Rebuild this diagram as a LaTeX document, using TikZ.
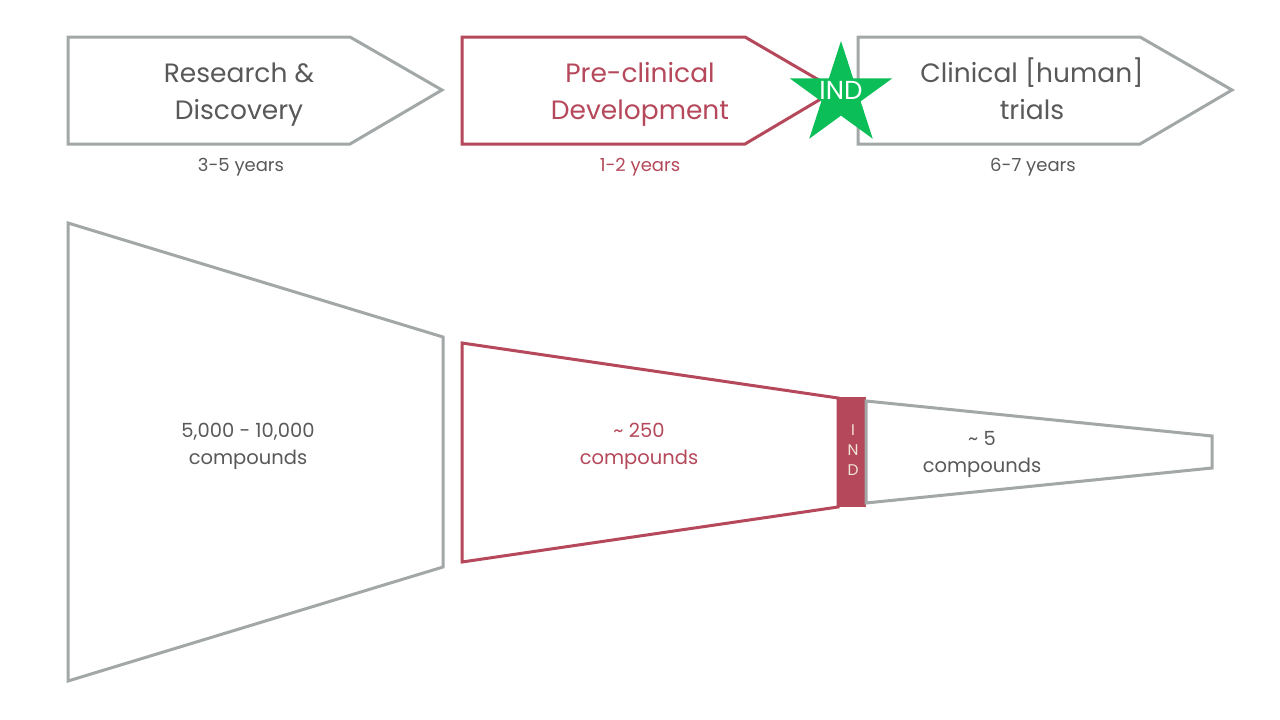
\documentclass[tikz,border=0pt]{standalone}
\usepackage{fontspec}
\setmainfont{Poppins}
\usetikzlibrary{shapes.geometric}
\definecolor{fgray}{HTML}{A2A7A7}
\definecolor{fred}{HTML}{B5485A}
\definecolor{fgreen}{HTML}{0BBE57}
\definecolor{ftext}{HTML}{595959}
\definecolor{fcream}{HTML}{F2E6D8}
\tikzset{
  grayline/.style={draw=fgray, line width=3pt, line join=miter},
  redline/.style={draw=fred, line width=3pt, line join=miter},
  bigtxt/.style={font=\fontsize{26.5}{37}\selectfont, align=center, text=ftext, inner sep=0pt, anchor=base},
  smalltxt/.style={font=\fontsize{18}{27}\selectfont, align=center, text=ftext, inner sep=0pt, anchor=base},
  comptxt/.style={font=\fontsize{19.5}{27}\selectfont, align=center, text=ftext, inner sep=0pt, anchor=base},
  tinytxt/.style={font=\fontsize{15.5}{20}\selectfont, align=center, text=fcream, inner sep=0pt},
}
\begin{document}
\begin{tikzpicture}[x=1pt,y=-1pt]
\useasboundingbox[fill=white] (0,0) rectangle (1280,720);
% top arrows
\draw[grayline] (68,37) -- (350,37) -- (442,90) -- (350,144) -- (68,144) -- cycle;
\draw[redline] (462,37) -- (745,37) -- (836,90) -- (745,144) -- (462,144) -- cycle;
\draw[grayline] (858,37) -- (1140,37) -- (1232,90) -- (1140,144) -- (858,144) -- cycle;
\node[star, star points=5, star point ratio=2.618, minimum size=108pt, inner sep=0pt, fill=fgreen] (star) at (841,95) {};
\node[font=\fontsize{26}{26}\selectfont, text=white, inner sep=0pt, anchor=base] (indstar) at (841,99) {IND};
\node[bigtxt] (t1) at (239,119) {Research \&\\Discovery};
\node[bigtxt, text=fred] (t2) at (640,119) {Pre-clinical\\Development};
\node[bigtxt] (t3) at (1032,119) {Clinical [human]\\trials};
\node[smalltxt] (y1) at (241,171.5) {3-5 years};
\node[smalltxt, text=fred] (y2) at (640,171.5) {1-2 years};
\node[smalltxt] (y3) at (1033,171.5) {6-7 years};
% funnels
\draw[grayline] (68,223) -- (443,337) -- (443,567) -- (68,681) -- cycle;
\draw[redline] (462,343) -- (838,398) -- (838,507) -- (462,562) -- cycle;
\fill[fred] (837,397) rectangle (866,507);
\draw[grayline] (866,401) -- (1212,436) -- (1212,468) -- (866,503) -- cycle;
\node[comptxt] (c1) at (248,464.5) {5,000 - 10,000\\compounds};
\node[comptxt, text=fred] (c2) at (639,464.5) {\textasciitilde{} 250\\compounds};
\node[comptxt] (c3) at (982,472.5) {\textasciitilde{} 5\\compounds};
\node[tinytxt] (bar) at (853,450) {I\\N\\D};
\end{tikzpicture}
\end{document}
